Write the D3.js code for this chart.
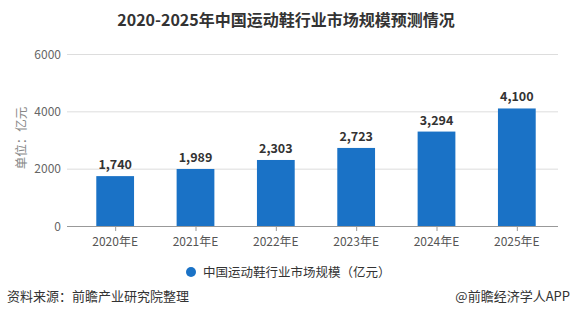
<!DOCTYPE html>
<html>
<head>
<meta charset="utf-8">
<script src="https://cdn.jsdelivr.net/npm/d3@7/dist/d3.min.js"></script>
<style>
  html, body { margin: 0; padding: 0; background: #fff; }
  svg { display: block; font-family: "Microsoft YaHei", "Noto Sans CJK SC", "Noto Sans", sans-serif; }
</style>
</head>
<body>
<svg id="chart" width="572" height="324"></svg>
<script>
// Market size of China's sports footwear industry, 2020-2025 (forecast)
const categories = ["2020年E", "2021年E", "2022年E", "2023年E", "2024年E", "2025年E"];
const values = [1740, 1989, 2303, 2723, 3294, 4100];
const yTicks = [0, 2000, 4000, 6000];
const seriesName = "中国运动鞋行业市场规模（亿元）";
const titleText = "2020-2025年中国运动鞋行业市场规模预测情况";
const unitText = "单位：亿元";
const sourceText = "资料来源：前瞻产业研究院整理";
const creditText = "@前瞻经济学人APP";

const barColor = "#1a72c6";
const svg = d3.select("#chart");

const x = d3.scaleBand().domain(categories).range([75, 557])
  .paddingInner(0.53).paddingOuter(0.265);
const y = d3.scaleLinear().domain([0, 6000]).range([226, 54]);

// title
svg.append("text")
  .attr("x", 286).attr("y", 26)
  .attr("text-anchor", "middle")
  .attr("font-size", 16).attr("font-weight", "bold")
  .attr("fill", "#333")
  .text(titleText);

// horizontal grid lines and y labels
const yAxis = svg.append("g");
yAxis.selectAll("line").data(yTicks).join("line")
  .attr("x1", 67).attr("x2", 558)
  .attr("y1", d => y(d) + 0.5).attr("y2", d => y(d) + 0.5)
  .attr("stroke", d => d === 0 ? "#999" : "#ddd")
  .attr("stroke-width", 1);
yAxis.selectAll("text").data(yTicks).join("text")
  .attr("x", 61).attr("y", d => y(d) + 4.5)
  .attr("text-anchor", "end")
  .attr("font-size", 12).attr("fill", "#666")
  .text(d => d);

// unit label
svg.append("text")
  .attr("transform", "translate(26,138) rotate(-90)")
  .attr("text-anchor", "middle")
  .attr("font-size", 12.5).attr("fill", "#888")
  .text(unitText);

// bars
svg.append("g").selectAll("rect").data(values).join("rect")
  .attr("x", (d, i) => x(categories[i]))
  .attr("y", d => y(d))
  .attr("width", x.bandwidth())
  .attr("height", d => y(0) - y(d))
  .attr("fill", barColor);

// value labels
const fmt = d3.format(",");
svg.append("g").selectAll("text").data(values).join("text")
  .attr("x", (d, i) => x(categories[i]) + x.bandwidth() / 2)
  .attr("y", d => y(d) - 7)
  .attr("text-anchor", "middle")
  .attr("font-size", 12.5).attr("font-weight", "bold")
  .attr("fill", "#333")
  .text(d => fmt(d));

// x axis ticks and labels
const xAxis = svg.append("g");
xAxis.selectAll("line").data(categories).join("line")
  .attr("x1", d => x(d) + x.bandwidth() / 2 + 0.5)
  .attr("x2", d => x(d) + x.bandwidth() / 2 + 0.5)
  .attr("y1", 226).attr("y2", 231)
  .attr("stroke", "#999");
xAxis.selectAll("text").data(categories).join("text")
  .attr("x", d => x(d) + x.bandwidth() / 2)
  .attr("y", 246)
  .attr("text-anchor", "middle")
  .attr("font-size", 12).attr("fill", "#555")
  .text(d => d);

// legend
svg.append("circle").attr("cx", 191).attr("cy", 272).attr("r", 5).attr("fill", barColor);
svg.append("text")
  .attr("x", 203).attr("y", 277)
  .attr("font-size", 12.5).attr("fill", "#333")
  .text(seriesName);

// footer
svg.append("text")
  .attr("x", 7).attr("y", 301)
  .attr("font-size", 13).attr("fill", "#333")
  .text(sourceText);
svg.append("text")
  .attr("x", 570).attr("y", 301)
  .attr("text-anchor", "end")
  .attr("font-size", 13).attr("fill", "#333")
  .text(creditText);
</script>
</body>
</html>
